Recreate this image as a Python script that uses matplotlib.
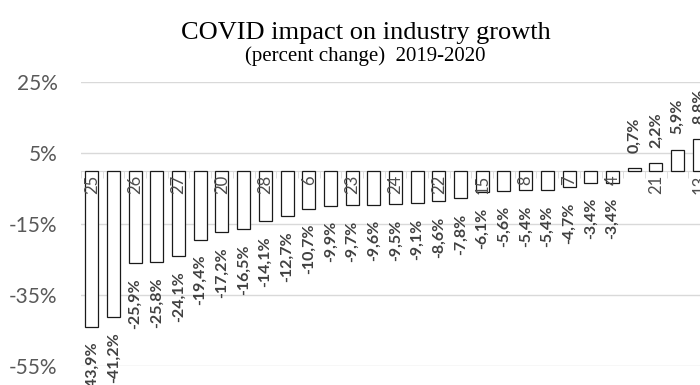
import matplotlib.pyplot as plt
import numpy as np

# industry growth 2019-2020, percent change, sorted
industries = ["25", "", "26", "", "27", "", "20", "", "28", "", "6", "", "23", "",
              "24", "", "22", "", "15", "", "8", "", "7", "", "4", "", "21", "", "13"]
change = [-43.9, -41.2, -25.9, -25.8, -24.1, -19.4, -17.2, -16.5, -14.1, -12.7,
          -10.7, -9.9, -9.7, -9.6, -9.5, -9.1, -8.6, -7.8, -6.1, -5.6,
          -5.4, -5.4, -4.7, -3.4, -3.4, 0.7, 2.2, 5.9, 8.8]
yticks = [-55, -35, -15, 5, 25]

grid_col = "#d9d9d9"
txt_col = "#595959"

fig = plt.figure(figsize=(7, 3.85), dpi=100)
ax = fig.add_axes([0.1157, 0.0494, 0.8986, 0.7377])

x = np.arange(len(change))
ax.bar(x, change, width=0.6, color="white", edgecolor="#1a1a1a", linewidth=0.9, zorder=2)

# value labels, outside the bar end
for xi, v in zip(x, change):
    off = 11 if v > 0 else -11
    ax.annotate(f"{v:.1f}%".replace(".", ","), (xi, v), xytext=(0, off),
                textcoords="offset points", rotation=90, ha="center",
                va="bottom" if v > 0 else "top", fontsize=11.5, fontweight="bold",
                family="Lato", color="#404040", zorder=3)

# category names just under the zero line, over the bars
for xi, name in zip(x, industries):
    ax.annotate(name, (xi, 0), xytext=(0, -3), textcoords="offset points",
                rotation=90, ha="center", va="top", fontsize=12,
                family="Lato", color="#4d4d4d", zorder=5)

ax.set_xlim(-0.5, len(change) - 0.5)
ax.set_ylim(-55, 25)
ax.set_yticks(yticks)
ax.set_yticklabels([f"{t}%" for t in yticks], family="Lato", fontsize=15, color=txt_col)
ax.tick_params(axis="y", length=0, pad=17)
ax.grid(axis="y", color=grid_col, linewidth=1, zorder=0)

# category axis sits on the zero line
ax.spines["bottom"].set_position(("data", 0))
ax.spines["bottom"].set_color(grid_col)
ax.spines["bottom"].set_zorder(1)
for s in ["top", "right", "left"]:
    ax.spines[s].set_visible(False)
ax.set_xticks(x)
ax.set_xticklabels([])
ax.set_xticks(np.arange(-0.5, len(change)), minor=True)
ax.tick_params(axis="x", which="major", length=0)
ax.tick_params(axis="x", which="minor", length=5, color=grid_col)

fig.text(0.522, 0.90, "COVID impact on industry growth", ha="center",
         family="Liberation Serif", fontsize=19)
fig.text(0.522, 0.842, "(percent change)  2019-2020", ha="center",
         family="Liberation Serif", fontsize=15)

fig.savefig("out.png", dpi=100)
